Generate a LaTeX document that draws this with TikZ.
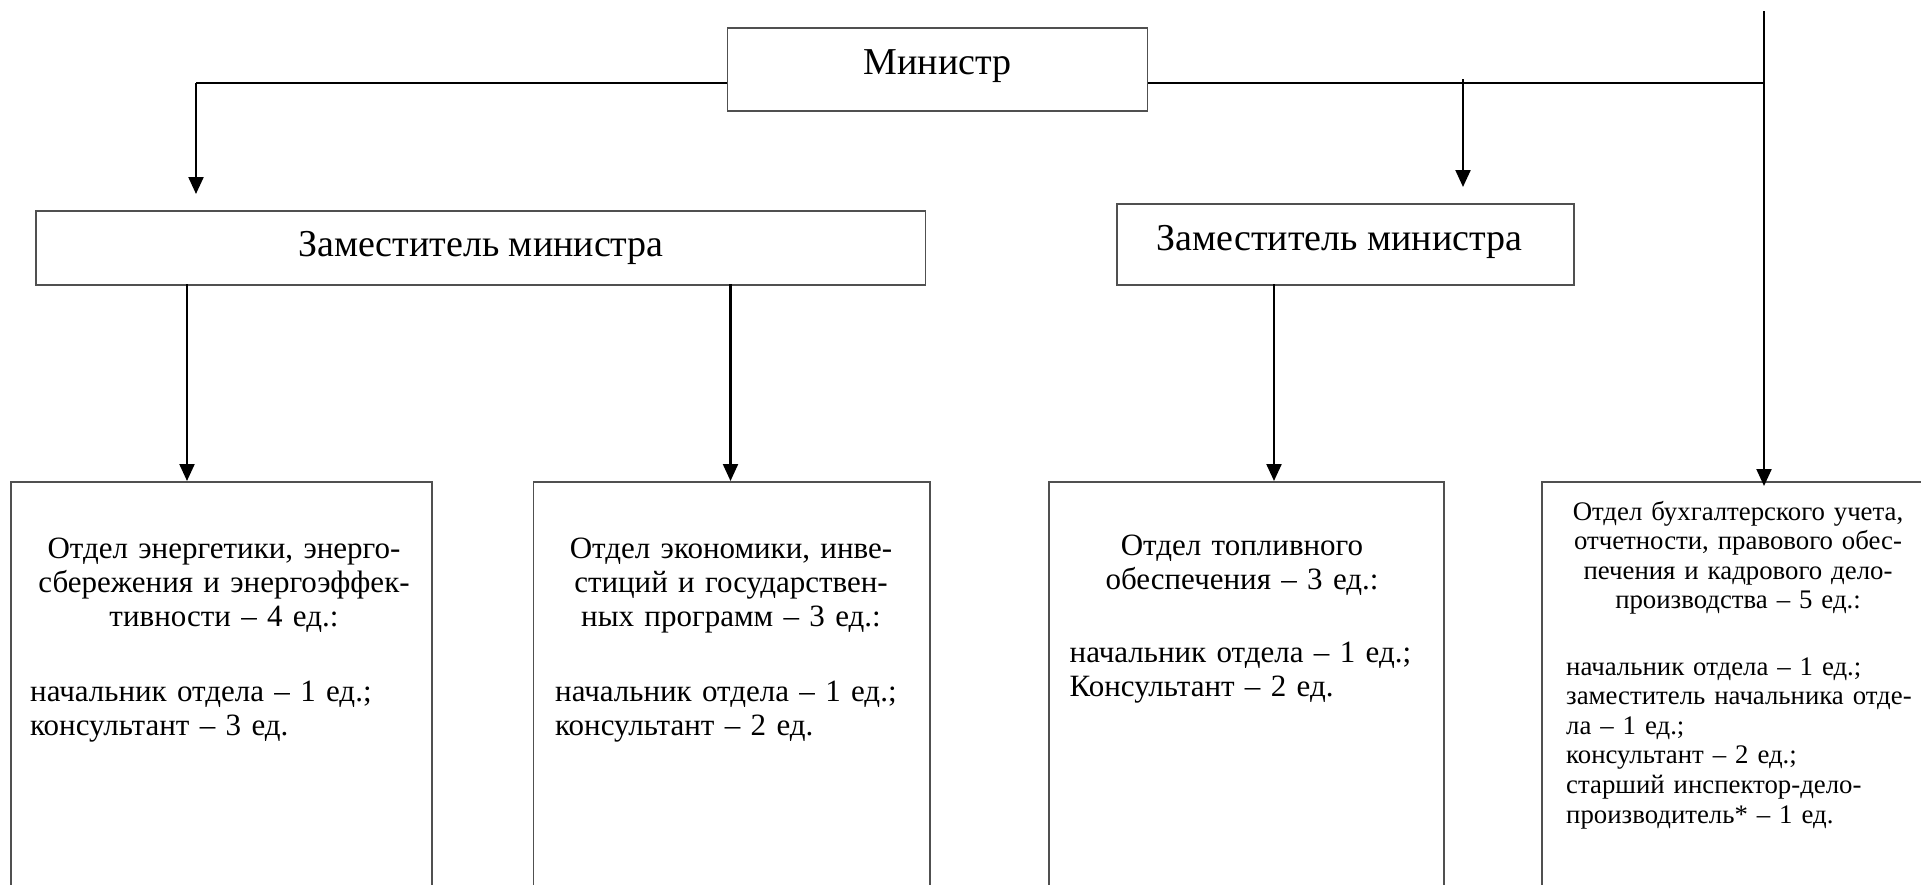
\documentclass[tikz,border=0pt]{standalone}
\usepackage{fontspec}
\setmainfont{Liberation Serif}
\usetikzlibrary{arrows.meta,calc}
\definecolor{boxgray}{HTML}{505050}
\tikzset{
  box/.style={draw=boxgray, line width=1.6pt},
  link/.style={draw=black, line width=2.2pt},
  arr/.style={link, -{Triangle[length=17pt,width=15pt]}},
  big/.style={font=\fontsize{38}{44}\selectfont, inner sep=0pt, anchor=base},
  head/.style={font=\fontsize{31}{34.3}\selectfont, inner sep=0pt, anchor=base, align=center},
  list/.style={font=\fontsize{31}{34.3}\selectfont, inner sep=0pt, anchor=base west, align=left},
  shead/.style={font=\fontsize{26.8}{29.6}\selectfont, inner sep=0pt, anchor=base, align=center},
  slist/.style={font=\fontsize{26.8}{29.6}\selectfont, inner sep=0pt, anchor=base west, align=left},
}
\begin{document}
\begin{tikzpicture}[x=1pt,y=-1pt]
\useasboundingbox (0,0) rectangle (1921,884);
% boxes
\node[inner sep=0pt, minimum width=420.2pt, minimum height=83.3pt, anchor=north west, box] (min) at (726.5,27) {};
\node[inner sep=0pt, minimum width=889.8pt, minimum height=74pt, anchor=north west, box] (dep1) at (35,210) {};
\node[inner sep=0pt, minimum width=457pt, minimum height=80.7pt, anchor=north west, box] (dep2) at (1116,203.3) {};
\node[inner sep=0pt, minimum width=421pt, minimum height=470pt, anchor=north west, box] (b1) at (10,481) {};
\node[inner sep=0pt, minimum width=396.5pt, minimum height=470pt, anchor=north west, box] (b2) at (532.8,481) {};
\node[inner sep=0pt, minimum width=395pt, minimum height=470pt, anchor=north west, box] (b3) at (1048,481) {};
\node[inner sep=0pt, minimum width=420pt, minimum height=470pt, anchor=north west, box] (b4) at (1541,481) {};
% texts
\node[big] (tmin) at (937.5,74) {Министр};
\node[big] (tdep1) at (481,256.7) {Заместитель министра};
\node[big] (tdep2) at (1339.5,250) {Заместитель министра};
\node[head, text width=400pt] (h1) at (224,558) {Отдел энергетики, энерго-\\сбережения и энергоэффек-\\тивности – 4 ед.:};
\node[list, text width=390pt] (l1) at (30,701) {начальник отдела – 1 ед.;\\консультант – 3 ед.};
\node[head, text width=390pt] (h2) at (731,558) {Отдел экономики, инве-\\стиций и государствен-\\ных программ – 3 ед.:};
\node[list, text width=370pt] (l2) at (555,701) {начальник отдела – 1 ед.;\\консультант – 2 ед.};
\node[head, text width=390pt] (h3) at (1242,555) {Отдел топливного\\обеспечения – 3 ед.:};
\node[list, text width=370pt] (l3) at (1069.5,662) {начальник отдела – 1 ед.;\\Консультант – 2 ед.};
\node[shead, text width=380pt] (h4) at (1738,520) {Отдел бухгалтерского учета,\\отчетности, правового обес-\\печения и кадрового дело-\\производства – 5 ед.:};
\node[slist, text width=360pt] (l4) at (1566,675) {начальник отдела – 1 ед.;\\заместитель начальника отде-\\ла – 1 ед.;\\консультант – 2 ед.;\\старший инспектор-дело-\\производитель* – 1 ед.};
% connectors
\coordinate (jL) at (196,83);
\coordinate (jL2) at (196,194);
\coordinate (jR) at (1764,83);
\coordinate (jRtop) at (1764,11);
\coordinate (jRtip) at (1764,486);
\coordinate (jM) at (1463,79);
\coordinate (jMtip) at (1463,187);
\draw[link] (jL -| min.west) -- (jL);
\draw[arr] (jL) -- (jL2);
\draw[link] (jL -| min.east) -- (jR);
\draw[arr] (jRtop) -- (jRtip);
\draw[arr] (jM) -- (jMtip);
\coordinate (d1a) at (187,284);
\coordinate (d1b) at (730.5,284);
\coordinate (d2a) at (1274,284);
\draw[arr] (d1a) -- (d1a |- b1.north);
\draw[arr] (d1b) -- (d1b |- b2.north);
\draw[arr] (d2a) -- (d2a |- b3.north);
\end{tikzpicture}
\end{document}
